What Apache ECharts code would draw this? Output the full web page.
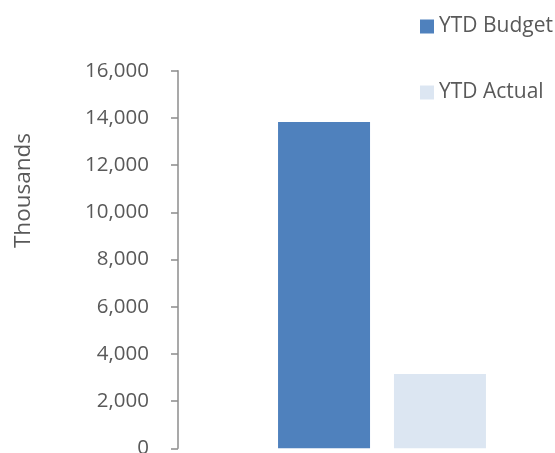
<!DOCTYPE html>
<html>
<head>
<meta charset="utf-8">
<script src="https://cdn.jsdelivr.net/npm/echarts@6/dist/echarts.min.js"></script>
<style>
  html, body { margin: 0; padding: 0; background: #fff; }
  #chart { width: 555px; height: 453px; }
</style>
</head>
<body>
<div id="chart"></div>
<script>
// chart values
const categories = [""];
const seriesNames = ["YTD Budget", "YTD Actual"];
const budgetValues = [13830];
const actualValues = [3150];
const yTicks = { min: 0, max: 16000, interval: 2000 };

const chart = echarts.init(document.getElementById("chart"));
const font = "Open Sans";
const textGray = "#595959";

const option = {
  animation: false,
  grid: {
    left: 178,
    top: 70.7,
    bottom: 4.7,
    width: 408, // plot runs past the right edge (chart is cropped)
    outerBoundsMode: "none",
  },
  legend: {
    data: seriesNames,
    orient: "vertical",
    left: 420,
    top: 16,
    padding: 0,
    itemWidth: 14,
    itemHeight: 14,
    itemGap: 45,
    icon: "rect",
    textStyle: {
      fontFamily: font,
      fontSize: 21,
      lineHeight: 20,
      color: textGray,
    },
  },
  // axis title sits above the plot middle, so place it by hand
  graphic: [
    {
      type: "text",
      x: 24,
      y: 190.5,
      rotation: Math.PI / 2,
      style: {
        text: "Thousands",
        fontFamily: font,
        fontSize: 22.5,
        fill: textGray,
        align: "center",
        verticalAlign: "middle",
      },
    },
  ],
  xAxis: {
    type: "category",
    data: categories,
    axisLine: { show: false },
    axisTick: { show: false },
    axisLabel: { show: false },
  },
  yAxis: {
    type: "value",
    min: yTicks.min,
    max: yTicks.max,
    interval: yTicks.interval,
    splitLine: { show: false },
    axisLine: { show: true, lineStyle: { color: "#8c8c8c", width: 1.5 } },
    axisTick: { show: true, length: 7, lineStyle: { color: "#8c8c8c", width: 1.5 } },
    axisLabel: {
      margin: 29,
      fontFamily: font,
      fontSize: 20.5,
      color: textGray,
      formatter: (v) => v.toLocaleString("en-US"),
    },
  },
  series: [
    {
      name: seriesNames[0],
      type: "bar",
      data: budgetValues,
      barWidth: 92,
      barGap: "26%",
      itemStyle: { color: "#4f81bd" },
    },
    {
      name: seriesNames[1],
      type: "bar",
      data: actualValues,
      barWidth: 92,
      itemStyle: { color: "#dce6f2" },
    },
  ],
};

chart.setOption(option);
</script>
</body>
</html>
